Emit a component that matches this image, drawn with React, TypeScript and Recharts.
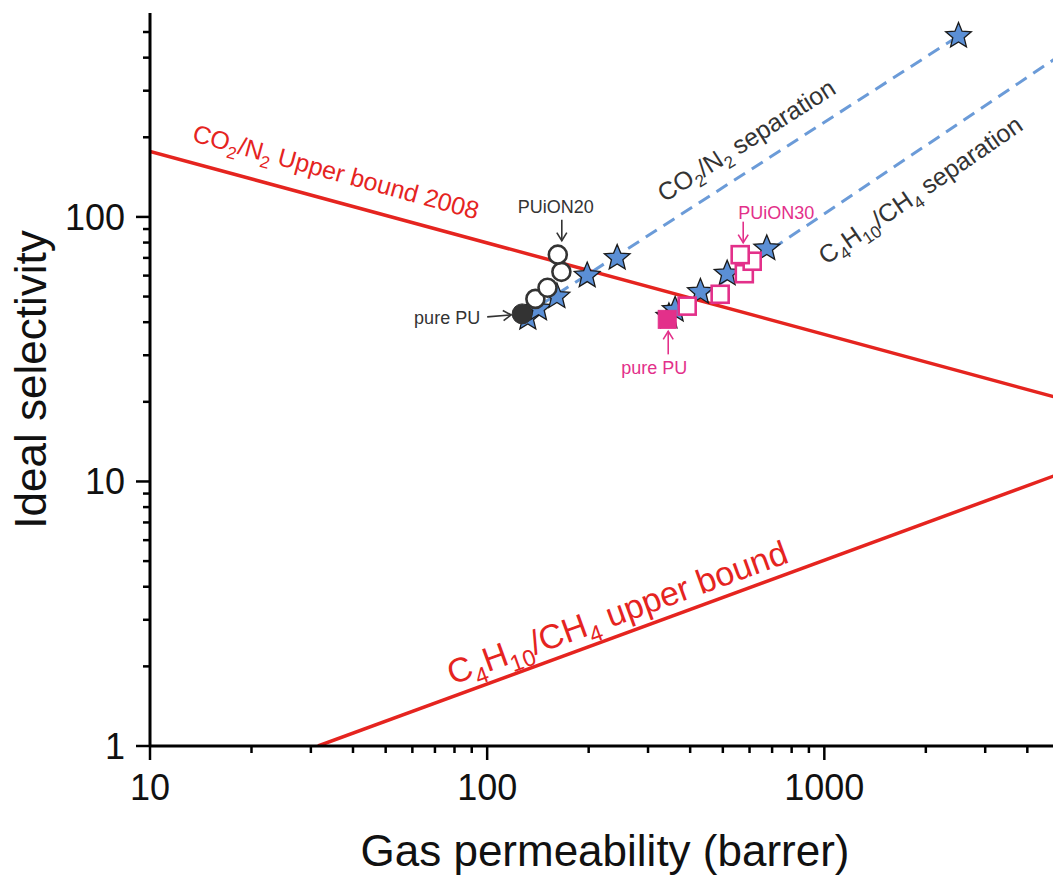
import React from 'react';
import { ComposedChart, Line, Scatter, XAxis, YAxis, ReferenceDot } from 'recharts';

const xTicks = [10, 20, 30, 40, 50, 60, 70, 80, 90, 100, 200, 300, 400, 500, 600, 700, 800, 900, 1000, 2000, 3000, 4000];
const yTicks = [1, 2, 3, 4, 5, 6, 7, 8, 9, 10, 20, 30, 40, 50, 60, 70, 80, 90, 100, 200, 300, 400, 500];
const majorX = [10, 100, 1000];
const majorY = [1, 10, 100];

// upper bounds (red)
const co2n2Bound = [{ x: 10, y: 177 }, { x: 5000, y: 20.6 }];
const c4ch4Bound = [{ x: 31.5, y: 1 }, { x: 5000, y: 10.7 }];

// separation trends (blue dashed)
const co2n2Trend = [{ x: 127, y: 42 }, { x: 2500, y: 483 }];
const c4ch4Trend = [{ x: 342, y: 41 }, { x: 5000, y: 408 }];

// stars
const co2n2Stars = [
  { x: 132, y: 41.5 }, { x: 142, y: 45 }, { x: 161, y: 50 }, { x: 198, y: 60 }, { x: 243, y: 70 }, { x: 2500, y: 483 },
];
const c4ch4Stars = [
  { x: 346, y: 42 }, { x: 361, y: 44.5 }, { x: 429, y: 52 }, { x: 515, y: 61 }, { x: 675, y: 76 },
];

// PU membranes
const purePuCO2 = [{ x: 127, y: 43 }];
const puion20 = [{ x: 139, y: 49 }, { x: 151, y: 54 }, { x: 166, y: 62 }, { x: 162, y: 72 }];
const purePuC4 = [{ x: 342, y: 41 }];
const puion30 = [{ x: 392, y: 46 }, { x: 491, y: 51 }, { x: 579, y: 61 }, { x: 611, y: 68 }, { x: 563, y: 72 }];

const font = '"Liberation Sans", Arial, Helvetica, sans-serif';
const RED = '#e5241f';
const PINK = '#e3308a';
const BLUE = '#6b9bd8';
const GREY = '#333';

const RichText = ({ parts, fs, x, y, angle = 0, fill, anchor = 'middle' }: any) => {
  let shifted = false;
  return (
    <text x={x} y={y + fs * 0.35} fontSize={fs} fontFamily={font} fill={fill} textAnchor={anchor}
      transform={`rotate(${angle} ${x} ${y})`}>
      {parts.map(([t, sub]: [string, boolean], i: number) => {
        let dy = 0;
        if (sub && !shifted) { dy = fs * 0.26; shifted = true; }
        else if (!sub && shifted) { dy = -fs * 0.26; shifted = false; }
        return <tspan key={i} dy={dy} fontSize={sub ? fs * 0.68 : fs}>{t}</tspan>;
      })}
    </text>
  );
};

const Arrow = ({ x1, y1, x2, y2, color }: any) => {
  const len = Math.hypot(x2 - x1, y2 - y1);
  const ux = (x2 - x1) / len, uy = (y2 - y1) / len;
  const h = 8, w = 5;
  const ax = x2 - ux * h - uy * w, ay = y2 - uy * h + ux * w;
  const bx = x2 - ux * h + uy * w, by = y2 - uy * h - ux * w;
  return (
    <g stroke={color} strokeWidth={1.6} fill="none">
      <line x1={x1} y1={y1} x2={x2} y2={y2} />
      <polyline points={`${ax},${ay} ${x2},${y2} ${bx},${by}`} />
    </g>
  );
};

const Star = (p: any) => {
  const R = 13.5, r = 6;
  const pts: string[] = [];
  for (let i = 0; i < 10; i++) {
    const a = -Math.PI / 2 + (i * Math.PI) / 5;
    const rad = i % 2 === 0 ? R : r;
    pts.push(`${p.cx + rad * Math.cos(a)},${p.cy + rad * Math.sin(a)}`);
  }
  return <polygon points={pts.join(' ')} fill="#5b8fd5" stroke="#1a1a1a" strokeWidth={1.3} strokeLinejoin="miter" />;
};

const OpenCircle = (p: any) => <circle cx={p.cx} cy={p.cy} r={9} fill="#fff" stroke={GREY} strokeWidth={2.6} />;
const FullCircle = (p: any) => <circle cx={p.cx} cy={p.cy} r={10} fill={GREY} stroke={GREY} strokeWidth={1} />;
const OpenSquare = (p: any) => <rect x={p.cx - 8.5} y={p.cy - 8.5} width={17} height={17} fill="#fff" stroke={PINK} strokeWidth={2.6} />;
const FullSquare = (p: any) => <rect x={p.cx - 9} y={p.cy - 9} width={18} height={18} fill={PINK} stroke={PINK} strokeWidth={1} />;

const BottomTick = (p: any) => {
  const v = p.payload.value;
  const major = majorX.includes(v);
  return (
    <g>
      <line x1={p.x} x2={p.x} y1={p.y} y2={p.y + (major ? 14 : 7)} stroke="#000" strokeWidth={2.5} />
      {major && <text x={p.x} y={p.y + 54} textAnchor="middle" fontSize={36} fontFamily={font} fill="#111">{v}</text>}
    </g>
  );
};
const TopTick = (p: any) => {
  const major = majorX.includes(p.payload.value);
  return <line x1={p.x} x2={p.x} y1={p.y} y2={p.y + (major ? 14 : 7)} stroke="#000" strokeWidth={2.5} />;
};
const LeftTick = (p: any) => {
  const v = p.payload.value;
  const major = majorY.includes(v);
  return (
    <g>
      <line x1={p.x} x2={p.x - (major ? 14 : 7)} y1={p.y} y2={p.y} stroke="#000" strokeWidth={2.5} />
      {major && <text x={p.x - 25} y={p.y + 13} textAnchor="end" fontSize={36} fontFamily={font} fill="#111">{v}</text>}
    </g>
  );
};
const RightTick = (p: any) => {
  const major = majorY.includes(p.payload.value);
  return <line x1={p.x} x2={p.x - (major ? 14 : 7)} y1={p.y} y2={p.y} stroke="#000" strokeWidth={2.5} />;
};

const axisLine = { stroke: '#000', strokeWidth: 3 };

export default function App() {
  return (
    <div style={{ width: 1053, height: 875, overflow: 'hidden' }}>
      <style>{'html, body { margin: 0; padding: 0; overflow: hidden; }'}</style>
      <ComposedChart width={1080} height={875} margin={{ top: 13, right: 20, bottom: 0, left: 0 }}>
        <XAxis xAxisId="b" dataKey="x" type="number" scale="log" domain={[10, 5000]} allowDataOverflow
          ticks={xTicks} interval={0} tickSize={0} tickMargin={0} tickLine={false} tick={BottomTick}
          axisLine={axisLine} height={129}
          label={(p: any) => (
            <text x={p.viewBox.x + p.viewBox.width / 2} y={p.viewBox.y + 120} textAnchor="middle"
              fontSize={44} fontFamily={font} fill="#111">Gas permeability (barrer)</text>
          )} />
        <XAxis xAxisId="t" orientation="top" dataKey="x" type="number" scale="log" domain={[10, 5000]} allowDataOverflow
          ticks={xTicks} interval={0} tickSize={0} tickMargin={0} tickLine={false} tick={TopTick}
          axisLine={axisLine} height={0} />
        <YAxis yAxisId="l" dataKey="y" type="number" scale="log" domain={[1, 590]} allowDataOverflow
          ticks={yTicks} interval={0} tickSize={0} tickMargin={0} tickLine={false} tick={LeftTick}
          axisLine={axisLine} width={150}
          label={(p: any) => {
            const cx = p.viewBox.x + 30;
            const cy = p.viewBox.y + p.viewBox.height / 2;
            return (
              <text x={cx} y={cy} transform={`rotate(-90 ${cx} ${cy})`} textAnchor="middle" dominantBaseline="central"
                fontSize={44} fontFamily={font} fill="#111">Ideal selectivity</text>
            );
          }} />
        <YAxis yAxisId="r" orientation="right" dataKey="y" type="number" scale="log" domain={[1, 590]} allowDataOverflow
          ticks={yTicks} interval={0} tickSize={0} tickMargin={0} tickLine={false} tick={RightTick}
          axisLine={axisLine} width={0} />

        <Line xAxisId="t" yAxisId="r" data={co2n2Bound} dataKey="y" type="linear" stroke={RED} strokeWidth={3.5}
          dot={false} activeDot={false} isAnimationActive={false} />
        <Line xAxisId="t" yAxisId="r" data={c4ch4Bound} dataKey="y" type="linear" stroke={RED} strokeWidth={3.5}
          dot={false} activeDot={false} isAnimationActive={false} />

        <Scatter xAxisId="b" yAxisId="l" data={co2n2Stars} shape={Star} isAnimationActive={false} />
        <Scatter xAxisId="b" yAxisId="l" data={c4ch4Stars} shape={Star} isAnimationActive={false} />
        <Scatter xAxisId="b" yAxisId="l" data={puion20} shape={OpenCircle} isAnimationActive={false} />
        <Scatter xAxisId="b" yAxisId="l" data={purePuCO2} shape={FullCircle} isAnimationActive={false} />
        <Scatter xAxisId="b" yAxisId="l" data={puion30} shape={OpenSquare} isAnimationActive={false} />
        <Scatter xAxisId="b" yAxisId="l" data={purePuC4} shape={FullSquare} isAnimationActive={false} />

        <Line xAxisId="b" yAxisId="l" data={co2n2Trend} dataKey="y" type="linear" stroke={BLUE} strokeWidth={3}
          strokeDasharray="13 8" dot={false} activeDot={false} isAnimationActive={false} />
        <Line xAxisId="b" yAxisId="l" data={c4ch4Trend} dataKey="y" type="linear" stroke={BLUE} strokeWidth={3}
          strokeDasharray="13 8" dot={false} activeDot={false} isAnimationActive={false} />

        <ReferenceDot xAxisId="b" yAxisId="l" x={35.6} y={148} r={0}
          shape={(p: any) => (
            <RichText x={p.cx} y={p.cy} angle={15.4} fs={25} fill={RED}
              parts={[['CO', false], ['2', true], ['/N', false], ['2', true], [' Upper bound 2008', false]]} />
          )} />
        <ReferenceDot xAxisId="b" yAxisId="l" x={587} y={195} r={0}
          shape={(p: any) => (
            <RichText x={p.cx} y={p.cy} angle={-32.5} fs={25} fill={GREY}
              parts={[['CO', false], ['2', true], ['/N', false], ['2', true], [' separation', false]]} />
          )} />
        <ReferenceDot xAxisId="b" yAxisId="l" x={1927} y={126.5} r={0}
          shape={(p: any) => (
            <RichText x={p.cx} y={p.cy} angle={-34.5} fs={25} fill={GREY}
              parts={[['C', false], ['4', true], ['H', false], ['10', true], ['/CH', false], ['4', true], [' separation', false]]} />
          )} />
        <ReferenceDot xAxisId="b" yAxisId="l" x={243} y={3.2} r={0}
          shape={(p: any) => (
            <RichText x={p.cx} y={p.cy} angle={-20} fs={34} fill={RED}
              parts={[['C', false], ['4', true], ['H', false], ['10', true], ['/CH', false], ['4', true], [' upper bound', false]]} />
          )} />

        <ReferenceDot xAxisId="b" yAxisId="l" x={162} y={72} r={0}
          shape={(p: any) => (
            <g>
              <text x={p.cx - 2} y={p.cy - 41.5} textAnchor="middle" fontSize={18} fontFamily={font} fill={GREY}>PUiON20</text>
              <Arrow x1={p.cx + 4} y1={p.cy - 35} x2={p.cx + 4} y2={p.cy - 14} color={GREY} />
            </g>
          )} />
        <ReferenceDot xAxisId="b" yAxisId="l" x={127} y={43} r={0}
          shape={(p: any) => (
            <g>
              <text x={p.cx - 42} y={p.cy + 10.5} textAnchor="end" fontSize={18} fontFamily={font} fill={GREY}>pure PU</text>
              <Arrow x1={p.cx - 35} y1={p.cy + 3} x2={p.cx - 11} y2={p.cy + 1} color={GREY} />
            </g>
          )} />
        <ReferenceDot xAxisId="b" yAxisId="l" x={563} y={72} r={0}
          shape={(p: any) => (
            <g>
              <text x={p.cx + 36} y={p.cy - 35.5} textAnchor="middle" fontSize={18} fontFamily={font} fill={PINK}>PUiON30</text>
              <Arrow x1={p.cx + 3} y1={p.cy - 33} x2={p.cx + 3} y2={p.cy - 12} color={PINK} />
            </g>
          )} />
        <ReferenceDot xAxisId="b" yAxisId="l" x={342} y={41} r={0}
          shape={(p: any) => (
            <g>
              <text x={p.cx - 13} y={p.cy + 54.5} textAnchor="middle" fontSize={18} fontFamily={font} fill={PINK}>pure PU</text>
              <Arrow x1={p.cx + 1} y1={p.cy + 35} x2={p.cx + 1} y2={p.cy + 12} color={PINK} />
            </g>
          )} />
      </ComposedChart>
    </div>
  );
}
